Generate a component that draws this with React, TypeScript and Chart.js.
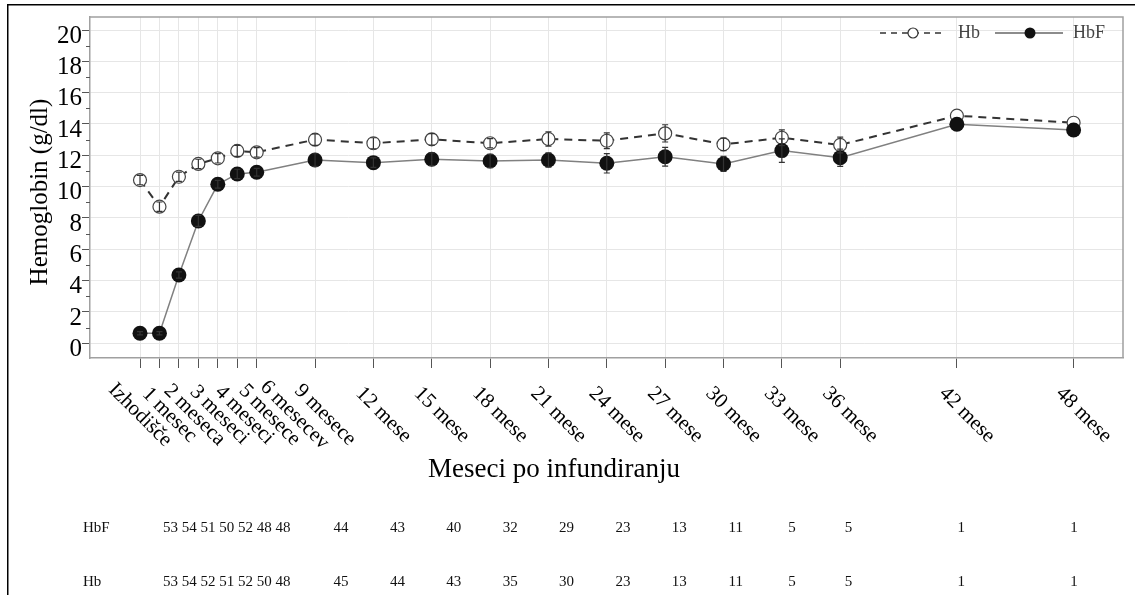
import React, { useEffect, useRef } from 'react';
import { Chart, registerables } from 'chart.js';

Chart.register(...registerables);

const months = [0, 1, 2, 3, 4, 5, 6, 9, 12, 15, 18, 21, 24, 27, 30, 33, 36, 42, 48];
const monthLabels = ['Izhodišče', '1 mesec', '2 meseca', '3 meseci', '4 meseci', '5 mesece', '6 mesecev', '9 mesece', '12 mese', '15 mese', '18 mese', '21 mese', '24 mese', '27 mese', '30 mese', '33 mese', '36 mese', '42 mese', '48 mese'];
const hbValues = [10.42, 8.72, 10.63, 11.45, 11.81, 12.28, 12.19, 13.0, 12.77, 13.02, 12.77, 13.04, 12.93, 13.4, 12.7, 13.12, 12.66, 14.53, 14.08];
const hbfValues = [0.64, 0.64, 4.36, 7.81, 10.15, 10.81, 10.92, 11.7, 11.53, 11.75, 11.64, 11.7, 11.49, 11.91, 11.45, 12.3, 11.85, 13.98, 13.62];
const hbErrors = [0.3, 0.3, 0.3, 0.3, 0.3, 0.35, 0.3, 0.36, 0.35, 0.37, 0.3, 0.45, 0.5, 0.55, 0.4, 0.5, 0.5, 0, 0];
const hbfErrors = [0.1, 0.1, 0.2, 0.35, 0.25, 0.3, 0.25, 0.4, 0.3, 0.4, 0.42, 0.45, 0.62, 0.6, 0.48, 0.75, 0.55, 0, 0];
const hbfCounts = [53, 54, 51, 50, 52, 48, 48, 44, 43, 40, 32, 29, 23, 13, 11, 5, 5, 1, 1];
const hbCounts = [53, 54, 52, 51, 52, 50, 48, 45, 44, 43, 35, 30, 23, 13, 11, 5, 5, 1, 1];
const yTickValues = [0, 2, 4, 6, 8, 10, 12, 14, 16, 18, 20];
const yMinorTickValues = [1, 3, 5, 7, 9, 11, 13, 15, 17, 19];

const SERIF = '"Liberation Serif", "DejaVu Serif", serif';

const customPlugin = {
  id: 'customDraw',
  afterDatasetsDraw(chart: any) {
    const { ctx, scales } = chart;
    const x = scales.x;
    const y = scales.y;
    ctx.save();
    ctx.strokeStyle = '#333';
    ctx.lineWidth = 1.2;
    ctx.setLineDash([]);
    const drawErr = (vals: number[], errs: number[]) => {
      vals.forEach((v, i) => {
        const e = errs[i];
        if (!e) return;
        const px = x.getPixelForValue(months[i]);
        const top = y.getPixelForValue(v + e);
        const bot = y.getPixelForValue(v - e);
        ctx.beginPath();
        ctx.moveTo(px, top);
        ctx.lineTo(px, bot);
        ctx.moveTo(px - 3, top);
        ctx.lineTo(px + 3, top);
        ctx.moveTo(px - 3, bot);
        ctx.lineTo(px + 3, bot);
        ctx.stroke();
      });
    };
    drawErr(hbfValues, hbfErrors);
    drawErr(hbValues, hbErrors);
    ctx.restore();
  },
  afterDraw(chart: any) {
    const { ctx, chartArea, scales } = chart;
    const x = scales.x;
    const y = scales.y;
    ctx.save();
    // top and right frame
    ctx.strokeStyle = '#a0a0a0';
    ctx.lineWidth = 1.5;
    ctx.beginPath();
    ctx.moveTo(chartArea.left, chartArea.top);
    ctx.lineTo(chartArea.right, chartArea.top);
    ctx.lineTo(chartArea.right, chartArea.bottom);
    ctx.stroke();

    // minor y ticks
    ctx.strokeStyle = '#555';
    ctx.lineWidth = 1;
    yMinorTickValues.forEach((v) => {
      const py = Math.round(y.getPixelForValue(v)) + 0.5;
      ctx.beginPath();
      ctx.moveTo(chartArea.left - 4, py);
      ctx.lineTo(chartArea.left, py);
      ctx.stroke();
    });

    // x labels, rotated 45deg clockwise
    ctx.fillStyle = '#000';
    ctx.font = `21px ${SERIF}`;
    ctx.textAlign = 'center';
    ctx.textBaseline = 'middle';
    let prev = -Infinity;
    months.forEach((m, i) => {
      const tick = x.getPixelForValue(m);
      const cx = i === 0 ? tick : Math.max(tick + 10, prev + 25);
      prev = cx;
      ctx.save();
      ctx.translate(cx, 415);
      ctx.rotate(Math.PI / 4);
      ctx.fillText(monthLabels[i], 0, 0);
      ctx.restore();
    });

    // axis titles
    ctx.font = `27px ${SERIF}`;
    ctx.fillText('Meseci po infundiranju', 554, 470);
    ctx.save();
    ctx.translate(40, 192);
    ctx.rotate(-Math.PI / 2);
    ctx.font = `25px ${SERIF}`;
    ctx.fillText('Hemoglobin (g/dl)', 0, 0);
    ctx.restore();

    // legend
    const ly = 33;
    const lx = chartArea.right - 243;
    ctx.strokeStyle = '#333';
    ctx.lineWidth = 1.5;
    ctx.setLineDash([6, 5]);
    ctx.beginPath();
    ctx.moveTo(lx, ly);
    ctx.lineTo(lx + 65, ly);
    ctx.stroke();
    ctx.setLineDash([]);
    ctx.beginPath();
    ctx.arc(lx + 33, ly, 5, 0, Math.PI * 2);
    ctx.fillStyle = '#fff';
    ctx.fill();
    ctx.lineWidth = 1.2;
    ctx.stroke();
    ctx.fillStyle = '#444';
    ctx.font = `18px ${SERIF}`;
    ctx.textAlign = 'left';
    ctx.fillText('Hb', lx + 78, ly);
    ctx.strokeStyle = '#666';
    ctx.lineWidth = 1.5;
    ctx.beginPath();
    ctx.moveTo(lx + 115, ly);
    ctx.lineTo(lx + 183, ly);
    ctx.stroke();
    ctx.beginPath();
    ctx.arc(lx + 150, ly, 5.5, 0, Math.PI * 2);
    ctx.fillStyle = '#111';
    ctx.fill();
    ctx.fillStyle = '#444';
    ctx.fillText('HbF', lx + 193, ly);

    // table of counts
    const tableX = (m: number) => 341 + ((m - 9) * (1074 - 341)) / 39;
    const drawRow = (label: string, counts: number[], rowY: number) => {
      ctx.fillStyle = '#111';
      ctx.font = `15px ${SERIF}`;
      ctx.textAlign = 'left';
      ctx.fillText(label, 83, rowY);
      ctx.fillText(counts.slice(0, 7).join(' '), 163, rowY);
      ctx.textAlign = 'center';
      months.forEach((m, i) => {
        if (i < 7) return;
        ctx.fillText(String(counts[i]), tableX(m), rowY);
      });
    };
    drawRow('HbF', hbfCounts, 528);
    drawRow('Hb', hbCounts, 582);

    // outer document frame
    ctx.fillStyle = '#000';
    ctx.fillRect(7, 4, 1128, 1.5);
    ctx.fillRect(7, 4, 1.5, 591);
    ctx.restore();
  },
};

export default function App() {
  const canvasRef = useRef<HTMLCanvasElement | null>(null);

  useEffect(() => {
    if (!canvasRef.current) return;
    const chart = new Chart(canvasRef.current, {
      type: 'line',
      data: {
        datasets: [
          {
            label: 'Hb',
            data: months.map((m, i) => ({ x: m, y: hbValues[i] })),
            borderColor: '#333',
            borderWidth: 2,
            borderDash: [8, 6],
            pointRadius: 6.5,
            pointBackgroundColor: '#fff',
            pointBorderColor: '#444',
            pointBorderWidth: 1.2,
            fill: false,
            tension: 0,
            order: 2,
          },
          {
            label: 'HbF',
            data: months.map((m, i) => ({ x: m, y: hbfValues[i] })),
            borderColor: '#808080',
            borderWidth: 1.5,
            pointRadius: 7.5,
            pointBackgroundColor: '#111',
            pointBorderColor: '#111',
            pointBorderWidth: 0,
            fill: false,
            tension: 0,
            order: 1,
          },
        ],
      },
      options: {
        animation: false,
        responsive: false,
        layout: { padding: { top: 17, right: 12, left: 0, bottom: 0 } },
        plugins: {
          legend: { display: false },
          tooltip: { enabled: false },
          title: { display: false },
        },
        scales: {
          x: {
            type: 'linear',
            min: -2.571,
            max: 50.54,
            afterBuildTicks: (scale: any) => {
              scale.ticks = months.map((v) => ({ value: v }));
            },
            afterFit: (scale: any) => {
              scale.height = 237;
            },
            ticks: { display: false, autoSkip: false },
            grid: {
              color: '#e6e6e6',
              lineWidth: 1,
              tickColor: '#555',
              tickLength: 10,
              drawTicks: true,
            },
            border: { display: true, color: '#a0a0a0', width: 1.5 },
          },
          y: {
            type: 'linear',
            min: -0.94,
            max: 20.83,
            afterBuildTicks: (scale: any) => {
              scale.ticks = yTickValues.map((v) => ({ value: v }));
            },
            afterFit: (scale: any) => {
              scale.width = 90;
            },
            ticks: {
              font: { family: SERIF, size: 25 },
              color: '#000',
              padding: 0,
              labelOffset: 6,
              autoSkip: false,
            },
            grid: {
              color: '#e6e6e6',
              lineWidth: 1,
              tickColor: '#555',
              tickLength: 8,
            },
            border: { display: true, color: '#a0a0a0', width: 1.5 },
          },
        },
      },
      plugins: [customPlugin],
    } as any);
    return () => chart.destroy();
  }, []);

  return (
    <div style={{ position: 'fixed', left: 0, top: 0, width: 1135, height: 595, background: '#fff' }}>
      <canvas ref={canvasRef} width={1135} height={595} style={{ display: 'block', width: 1135, height: 595 }} />
    </div>
  );
}
